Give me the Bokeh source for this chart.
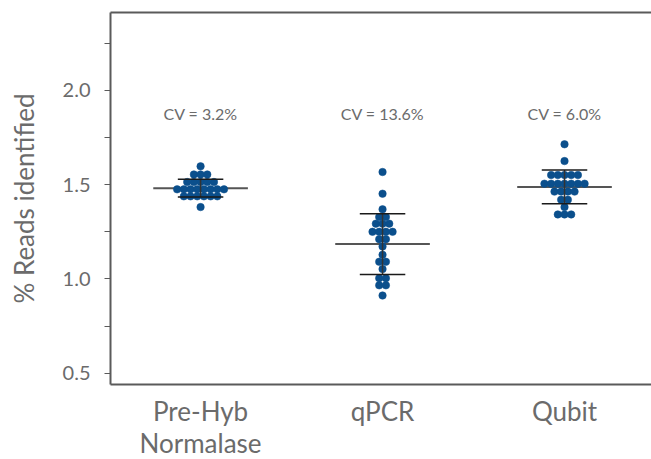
from bokeh.plotting import figure
from bokeh.models import Range1d, FixedTicker, LinearAxis, ColumnDataSource, NumeralTickFormatter
from bokeh.core.properties import value
from bokeh.embed import file_html
from bokeh.resources import INLINE

# ---- data ----
categories = ["Pre-Hyb\nNormalase", "qPCR", "Qubit"]
prehyb = [1.597,
          1.554, 1.554, 1.554,
          1.514, 1.514, 1.514, 1.514, 1.514,
          1.475, 1.475, 1.475, 1.475, 1.475, 1.475, 1.475, 1.475,
          1.438, 1.438, 1.438, 1.438, 1.438, 1.438,
          1.381]
qpcr = [1.567, 1.452, 1.369,
        1.328, 1.328,
        1.293, 1.293, 1.293,
        1.250, 1.250, 1.250, 1.250,
        1.211, 1.211,
        1.172, 1.128,
        1.091, 1.091,
        1.052,
        1.004, 1.004,
        0.966, 0.966,
        0.912]
qubit = [1.714, 1.625,
         1.551, 1.551, 1.551, 1.551, 1.551,
         1.505, 1.505, 1.505, 1.505, 1.505, 1.505, 1.505,
         1.463, 1.463, 1.463, 1.463,
         1.420, 1.420,
         1.381,
         1.342, 1.342, 1.342]
means = [1.481, 1.185, 1.488]
sds = [0.047, 0.161, 0.089]
cv_labels = ["CV = 3.2%", "CV = 13.6%", "CV = 6.0%"]
cv_y = 1.878
y_ticks = [0.5, 1.0, 1.5, 2.0]
y_minor = [0.75, 1.25, 1.75, 2.25]

FONT = "Lato"
GRAY = "#6b6b6b"
AXIS = "#5a5a5a"
DOT = "#0b4f8c"
positions = [1, 2, 3]
groups = [prehyb, qpcr, qubit]

p = figure(frame_width=541, frame_height=372,
           x_range=Range1d(0.505, 3.478), y_range=Range1d(0.44, 2.413),
           output_backend="svg", toolbar_location=None,
           min_border_left=110, min_border_right=0, min_border_top=12,
           min_border_bottom=75, x_axis_type=None, y_axis_type=None)
p.xgrid.visible = False
p.ygrid.visible = False
p.outline_line_color = None
p.background_fill_color = "white"

# left axis
yax = LinearAxis(ticker=FixedTicker(ticks=y_ticks, minor_ticks=y_minor),
                 formatter=NumeralTickFormatter(format="0.0"))
yax.axis_label = "% Reads identified"
yax.axis_label_text_font = FONT
yax.axis_label_text_font_size = "26px"
yax.axis_label_text_font_style = "normal"
yax.axis_label_text_color = GRAY
yax.axis_label_standoff = 20
yax.major_label_text_font = FONT
yax.major_label_text_font_size = "20px"
yax.major_label_text_color = GRAY
yax.major_label_standoff = 14
yax.axis_line_color = AXIS
yax.axis_line_width = 2
yax.major_tick_line_color = AXIS
yax.minor_tick_line_color = AXIS
yax.major_tick_out = 6
yax.major_tick_in = 0
yax.minor_tick_out = 6
yax.minor_tick_in = 0
p.add_layout(yax, "left")

# bottom axis
xax = LinearAxis(ticker=FixedTicker(ticks=positions, minor_ticks=[]))
xax.major_label_overrides = {pos: lab for pos, lab in zip(positions, categories)}
xax.major_label_text_font = FONT
xax.major_label_text_font_size = "26px"
xax.major_label_text_color = GRAY
xax.major_label_text_line_height = 1.0
xax.major_label_standoff = 10
xax.axis_line_color = AXIS
xax.axis_line_width = 2
xax.major_tick_out = 0
xax.major_tick_in = 0
xax.minor_tick_out = 0
xax.minor_tick_in = 0
p.add_layout(xax, "below")

# top border
tax = LinearAxis(ticker=FixedTicker(ticks=[], minor_ticks=[]))
tax.axis_line_color = AXIS
tax.axis_line_width = 2
tax.major_label_text_font_size = "0px"
tax.major_tick_out = 0
tax.major_tick_in = 0
p.add_layout(tax, "above")

# mean lines (behind dots)
mw = 0.26
p.segment(x0=[x - mw for x in positions], x1=[x + mw for x in positions],
          y0=means, y1=means, line_color="#555555", line_width=2)

# beeswarm dots: rows of equal values, spread horizontally
dx = 0.0368
xs, ys = [], []
for pos, vals in zip(positions, groups):
    counts = {}
    for v in vals:
        counts[v] = counts.get(v, 0) + 1
    for v, n in counts.items():
        for i in range(n):
            xs.append(pos + (i - (n - 1) / 2) * dx)
            ys.append(v)
p.scatter(x=xs, y=ys, size=7.5, fill_color=DOT, line_color=DOT, line_width=0.5)

# SD bars
cw = 0.125
up = [m + s for m, s in zip(means, sds)]
lo = [m - s for m, s in zip(means, sds)]
p.segment(x0=positions, x1=positions, y0=lo, y1=up, line_color="#333333", line_width=1.5)
p.segment(x0=[x - cw for x in positions], x1=[x + cw for x in positions],
          y0=up, y1=up, line_color="#1a1a1a", line_width=1.5)
p.segment(x0=[x - cw for x in positions], x1=[x + cw for x in positions],
          y0=lo, y1=lo, line_color="#1a1a1a", line_width=1.5)

# CV labels
src = ColumnDataSource(dict(x=positions, y=[cv_y] * 3, t=cv_labels))
p.text(x="x", y="y", text="t", source=src, text_font=value(FONT),
       text_font_size="16px", text_color=GRAY, text_align="center",
       text_baseline="middle")

open("out.html", "w").write(file_html(p, INLINE))
